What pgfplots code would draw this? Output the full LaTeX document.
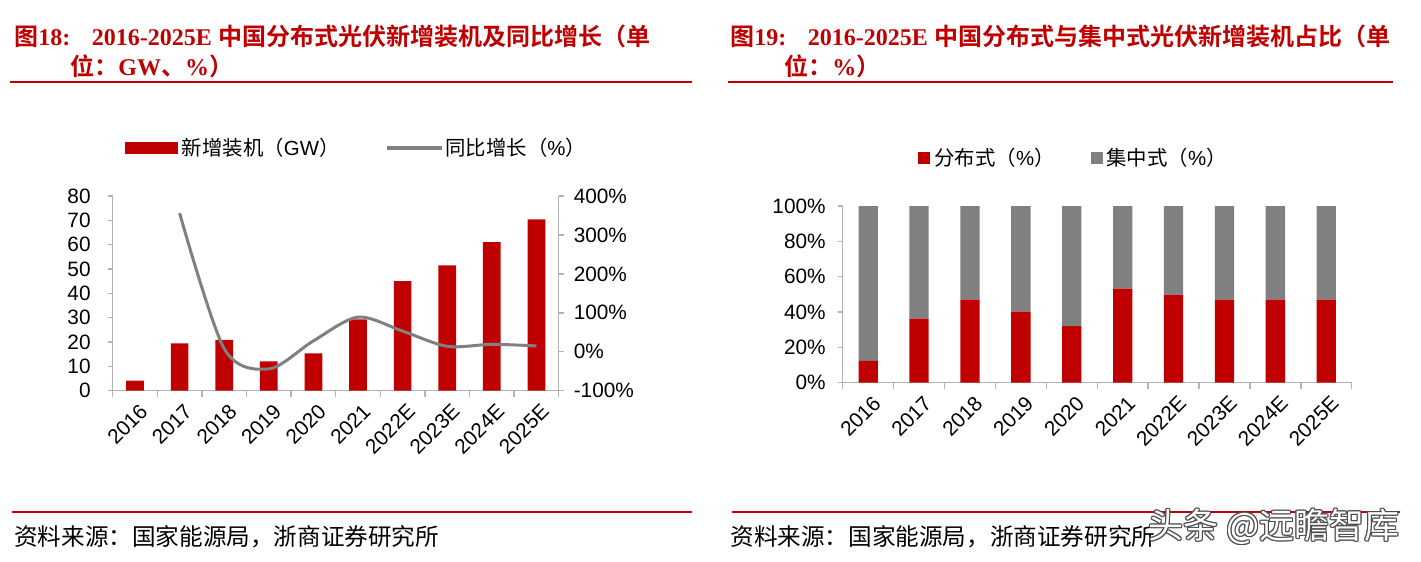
\documentclass[border=0pt]{standalone}
\usepackage{pgfplots}
\pgfplotsset{compat=1.18}
\usepackage{fontspec}
\setmainfont{Liberation Sans}
\newfontfamily\cjk{Noto Sans CJK SC}[BoldFont={Noto Sans CJK SC Bold}]
\newfontfamily\tnr{Liberation Serif}
\definecolor{cred}{HTML}{C00000}
\definecolor{cgray}{HTML}{808080}
\definecolor{axgray}{HTML}{B3B3B3}
\pgfplotsset{
  common/.style={
    scale only axis,
    anchor=south west,
    xmin=-0.5, xmax=9.5,
    xtick={0,...,9},
    xticklabels={2016,2017,2018,2019,2020,2021,2022E,2023E,2024E,2025E},
    minor xtick={-0.5,0.5,...,9.5},
    major x tick style={draw=none},
    minor x tick style={axgray, line width=0.7pt},
    minor tick length=3pt,
    major tick length=2.5pt,
    tick align=outside,
    axis line style={axgray, line width=0.7pt},
    y tick style={axgray, line width=0.7pt},
    tick label style={font=\fontsize{10.4}{12}\selectfont, text=black},
    xticklabel style={rotate=45, anchor=north east, inner sep=1pt, yshift=-2.5pt},
    /pgf/number format/assume math mode=true,
  }
}
\begin{document}
\begin{tikzpicture}
\fill[white] (0,0) rectangle (710.5pt,-281pt);
% titles
\node[anchor=west, text=cred, inner sep=0pt, font=\fontsize{12}{14}\selectfont] at (7pt,-18pt)
  {{\cjk\bfseries 图}{\tnr\bfseries 18:}\hspace{0.9em}{\tnr\bfseries 2016-2025E} {\cjk\bfseries 中国分布式光伏新增装机及同比增长（单}};
\node[anchor=west, text=cred, inner sep=0pt, font=\fontsize{12}{14}\selectfont] at (35pt,-33pt)
  {{\cjk\bfseries 位：}{\tnr\bfseries GW}{\cjk\bfseries 、}{\tnr\bfseries \%}{\cjk\bfseries ）}};
\node[anchor=west, text=cred, inner sep=0pt, font=\fontsize{12}{14}\selectfont] at (365pt,-18pt)
  {{\cjk\bfseries 图}{\tnr\bfseries 19:}\hspace{0.9em}{\tnr\bfseries 2016-2025E} {\cjk\bfseries 中国分布式与集中式光伏新增装机占比（单}};
\node[anchor=west, text=cred, inner sep=0pt, font=\fontsize{12}{14}\selectfont] at (392pt,-33pt)
  {{\cjk\bfseries 位：}{\tnr\bfseries \%}{\cjk\bfseries ）}};
\draw[cred, line width=1pt] (5pt,-41pt) -- (346pt,-41pt);
\draw[cred, line width=1pt] (364pt,-41pt) -- (696.5pt,-41pt);
\draw[cred, line width=1pt] (6pt,-256pt) -- (346pt,-256pt);
\draw[cred, line width=1pt] (366pt,-256pt) -- (700pt,-256pt);
\node[anchor=west, inner sep=0pt, font=\fontsize{11.8}{13}\selectfont] at (7pt,-268.5pt) {\cjk 资料来源：国家能源局，浙商证券研究所};
\node[anchor=west, inner sep=0pt, font=\fontsize{11.8}{13}\selectfont] at (365pt,-268.5pt) {\cjk 资料来源：国家能源局，浙商证券研究所};

% left chart: bars
\begin{axis}[common, at={(56.35pt,-195.35pt)}, width=223pt, height=97.35pt,
  axis x line*=bottom, axis y line*=left,
  ymin=0, ymax=80, ytick={0,10,...,80},
  yticklabel style={xshift=-5pt},
  ybar, bar width=8.85pt]
\addplot[fill=cred, draw=none] coordinates {(0,4.1) (1,19.4) (2,20.9) (3,12.1) (4,15.3) (5,29.3) (6,45) (7,51.5) (8,61) (9,70.4)};
\end{axis}
% left chart: growth line
\begin{axis}[common, at={(56.35pt,-195.35pt)}, width=223pt, height=97.35pt,
  axis y line*=right, axis x line=none,
  ymin=-100, ymax=400, ytick={-100,0,...,400},
  yticklabel={\pgfmathprintnumber{\tick}\%},
  yticklabel style={xshift=1.5pt},
  legend columns=2,
  legend style={at={(0.0276,1.2465)}, anchor=west, draw=none, fill=none, inner sep=0pt,
    font=\fontsize{10.2}{11}\selectfont, /tikz/every even column/.append style={column sep=22pt}},
  legend cell align=left]
\addlegendimage{legend image code/.code={\fill[cred] (0pt,-2.75pt) rectangle (25.85pt,2.75pt);}}
\addlegendentry{{\cjk 新增装机（}GW{\cjk ）}}
\addlegendimage{legend image code/.code={\fill[cgray] (0pt,-0.7pt) rectangle (26.6pt,0.7pt);}}
\addlegendentry{{\cjk 同比增长（}\%{\cjk ）}}
\addplot[cgray, line width=1.5pt, smooth, forget plot]
  coordinates {(1,356) (2,8) (3,-44) (4,28) (5,89) (6,53) (7,14) (8,19) (9,15)};
\end{axis}

% right chart
\begin{axis}[common, at={(421.35pt,-191.35pt)}, width=254.5pt, height=88.35pt,
  axis x line*=bottom, axis y line*=left,
  ybar stacked, bar width=9.65pt,
  ymin=0, ymax=100, ytick={0,20,...,100},
  yticklabel={\pgfmathprintnumber{\tick}\%},
  yticklabel style={xshift=-2.5pt},
  legend columns=2,
  legend style={at={(0.148,1.272)}, anchor=west, draw=none, fill=none, inner sep=0pt,
    font=\fontsize{10.2}{11}\selectfont, /tikz/every even column/.append style={column sep=16pt}},
  legend cell align=left]
\addplot[fill=cred, draw=none, legend image code/.code={\fill[cred] (0pt,-3pt) rectangle (6pt,3pt);}]
  coordinates {(0,12.3) (1,36.2) (2,47) (3,40.2) (4,32) (5,53.2) (6,49.8) (7,47) (8,47) (9,47)};
\addlegendentry{{\cjk 分布式（}\%{\cjk ）}}
\addplot[fill=cgray, draw=none, legend image code/.code={\fill[cgray] (0pt,-3pt) rectangle (6pt,3pt);}]
  coordinates {(0,87.7) (1,63.8) (2,53) (3,59.8) (4,68) (5,46.8) (6,50.2) (7,53) (8,53) (9,53)};
\addlegendentry{{\cjk 集中式（}\%{\cjk ）}}
\end{axis}

% watermark
\foreach \dx/\dy in {0.6/0,-0.6/0,0/0.6,0/-0.6,0.45/0.45,-0.45/-0.45,0.45/-0.45,-0.45/0.45}{
  \node[anchor=west, inner sep=0pt, text=black!70, font=\fontsize{17.5}{19}\selectfont] at (574pt+\dx pt,-263.5pt+\dy pt) {\cjk 头条 @远瞻智库};
}
\node[anchor=west, inner sep=0pt, text=white, font=\fontsize{17.5}{19}\selectfont] at (574pt,-263.5pt) {\cjk 头条 @远瞻智库};
\end{tikzpicture}
\end{document}
